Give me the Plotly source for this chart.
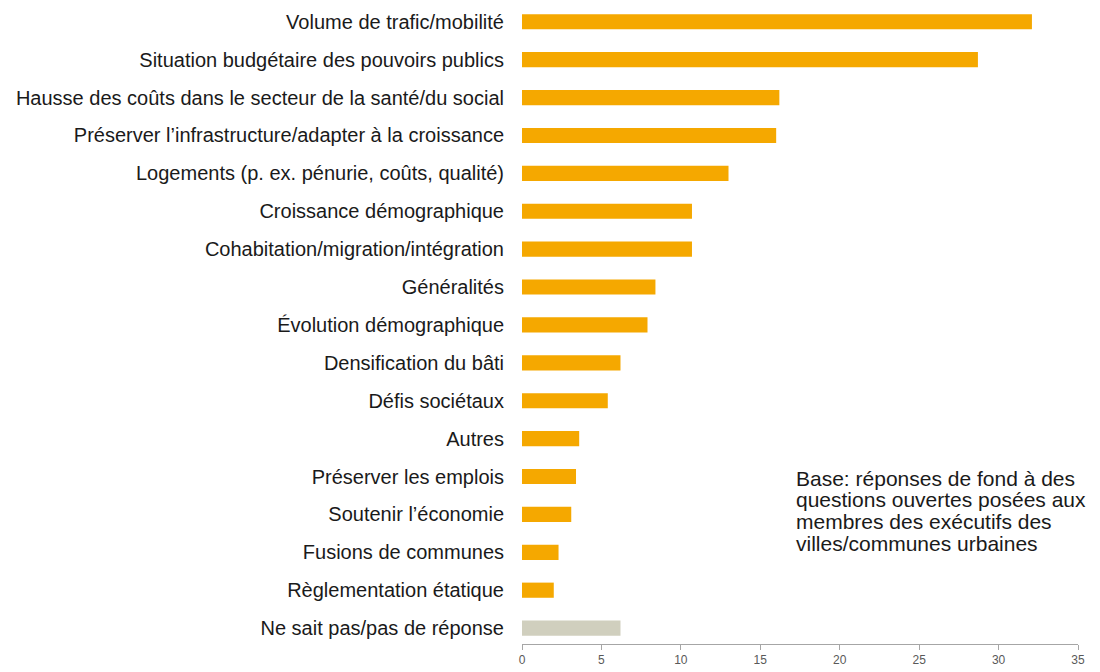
import plotly.graph_objects as go

categories = [
    "Volume de trafic/mobilité",
    "Situation budgétaire des pouvoirs publics",
    "Hausse des coûts dans le secteur de la santé/du social",
    "Préserver l’infrastructure/adapter à la croissance",
    "Logements (p. ex. pénurie, coûts, qualité)",
    "Croissance démographique",
    "Cohabitation/migration/intégration",
    "Généralités",
    "Évolution démographique",
    "Densification du bâti",
    "Défis sociétaux",
    "Autres",
    "Préserver les emplois",
    "Soutenir l’économie",
    "Fusions de communes",
    "Règlementation étatique",
    "Ne sait pas/pas de réponse",
]
values = [32.1, 28.7, 16.2, 16.0, 13.0, 10.7, 10.7, 8.4, 7.9, 6.2, 5.4, 3.6, 3.4, 3.1, 2.3, 2.0, 6.2]
bar_colors = ["#F5A800"] * 16 + ["#D0CFBE"]

note_lines = [
    "Base: réponses de fond à des",
    "questions ouvertes posées aux",
    "membres des exécutifs des",
    "villes/communes urbaines",
]

fig = go.Figure(go.Bar(
    x=values, y=categories, orientation="h",
    marker=dict(color=bar_colors, line=dict(width=0)),
    width=0.4,
))

# page body adds an 8px offset, so the figure is a bit smaller than the window
fig.update_layout(
    width=1092, height=664,
    margin=dict(l=514, r=22, t=0, b=28, autoexpand=False),
    paper_bgcolor="white", plot_bgcolor="white",
    font=dict(family="Liberation Sans, Arial, sans-serif", color="#1a1a1a"),
    showlegend=False,
)
fig.update_xaxes(
    range=[0, 35], tick0=0, dtick=5,
    showgrid=False, zeroline=False,
    showline=True, linecolor="#a6a6a6", linewidth=1,
    ticks="outside", ticklen=5, tickcolor="#a6a6a6",
    tickfont=dict(size=12, color="#595959"),
)
fig.update_yaxes(
    range=[16.42, -0.364], showgrid=False, showline=False,
    ticks="", tickfont=dict(size=20, color="#1a1a1a"),
    ticklabelstandoff=17,
)

# one annotation per line to get the tight line spacing of the original
for i, line in enumerate(note_lines):
    fig.add_annotation(
        text=line, xref="paper", yref="paper", x=0.49, y=0.261 - i * 0.0341,
        xanchor="left", yanchor="middle", align="left", showarrow=False,
        font=dict(size=21, color="#1a1a1a"),
    )

fig.write_html("out.html")
